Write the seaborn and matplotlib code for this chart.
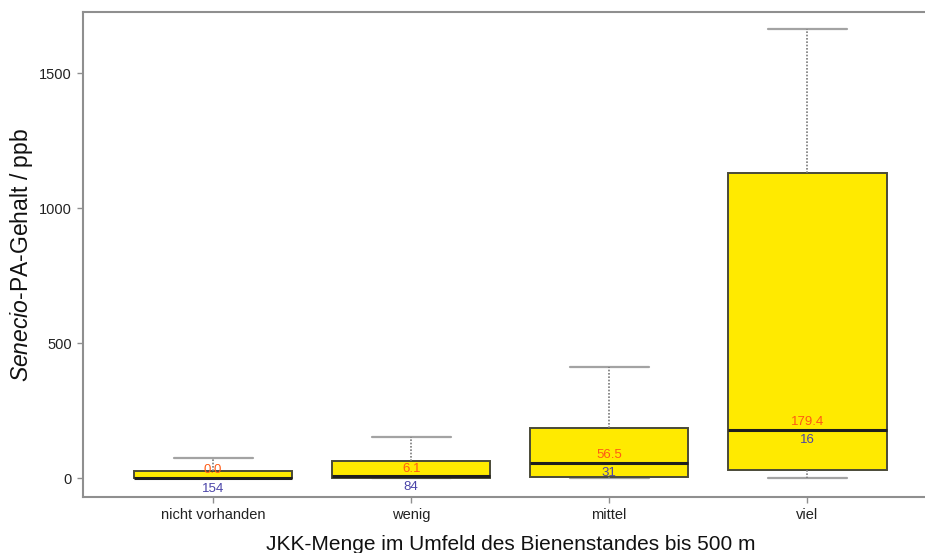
import matplotlib
matplotlib.use("Agg")
import matplotlib.pyplot as plt
import pandas as pd
import seaborn as sns

# Five-number summaries per group (ppb)
categories = ["nicht vorhanden", "wenig", "mittel", "viel"]
lower_whisker = [0, 0, 0, 0]
q1 = [0, 0, 5, 30]
median = [0.0, 6.1, 56.5, 179.4]
q3 = [27, 63, 185, 1130]
upper_whisker = [74, 152, 411, 1663]
n_samples = [154, 84, 31, 16]
y_ticks = [0, 500, 1000, 1500]

sns.set_style("ticks")
plt.rcParams["font.family"] = ["Liberation Sans", "DejaVu Sans"]
plt.rcParams["mathtext.fontset"] = "custom"
plt.rcParams["mathtext.rm"] = "Liberation Sans"
plt.rcParams["mathtext.it"] = "Liberation Sans:italic"

# Long table: the five summary values of each group; with five points the
# linear percentiles reproduce q1 / median / q3 exactly.
rows = []
for cat, lo, a, m, b, hi in zip(categories, lower_whisker, q1, median, q3, upper_whisker):
    for v in (lo, a, m, b, hi):
        rows.append({"Menge": cat, "PA": v})
df = pd.DataFrame(rows)

fig = plt.figure(figsize=(9.25, 5.53), dpi=100)
ax = fig.add_axes([83 / 925, (553 - 497) / 553, (938 - 83) / 925, (497 - 12) / 553])

grey = "#8c8c8c"
sns.boxplot(
    data=df, x="Menge", y="PA", order=categories, ax=ax,
    color="#ffea00", saturation=1, width=0.8, whis=(0, 100),
    linecolor="#4a4a38", linewidth=1.4, showfliers=False,
    medianprops={"color": "#1e1e1e", "linewidth": 2.2},
    whiskerprops={"color": "#7a7a7a", "linestyle": (0, (1, 1)), "linewidth": 1.2},
    capprops={"color": "#a3a3a3", "linewidth": 1.6, "zorder": 1.5},
)

# Median value above, sample count below each median line
for i, (m, n) in enumerate(zip(median, n_samples)):
    ax.annotate(f"{m:.1f}", xy=(i, m), xytext=(0, 5.5), textcoords="offset points",
                ha="center", va="center", fontsize=9.5, color="#ff5a14")
    ax.annotate(f"{n}", xy=(i, m), xytext=(0, -7.5), textcoords="offset points",
                ha="center", va="center", fontsize=9.5, color="#4a44a8")

ax.set_xlim(-0.657, 3.66)
ax.set_ylim(-70, 1726)
ax.set_yticks(y_ticks)
ax.set_yticklabels([str(t) for t in y_ticks])

ax.set_xlabel("JKK-Menge im Umfeld des Bienenstandes bis 500 m", fontsize=15, labelpad=9, color="#111111")
ax.set_ylabel(r"$\mathit{Senecio}$-PA-Gehalt / ppb", fontsize=16.5, labelpad=3, color="#111111")

for side in ("left", "bottom", "top", "right"):
    ax.spines[side].set_color("#8f8f8f")
    ax.spines[side].set_linewidth(1.5)
ax.tick_params(axis="both", colors="#8f8f8f", labelcolor="#222222", length=4, width=1.0,
               labelsize=10.5, pad=4)

fig.savefig("out.png", dpi=100)
